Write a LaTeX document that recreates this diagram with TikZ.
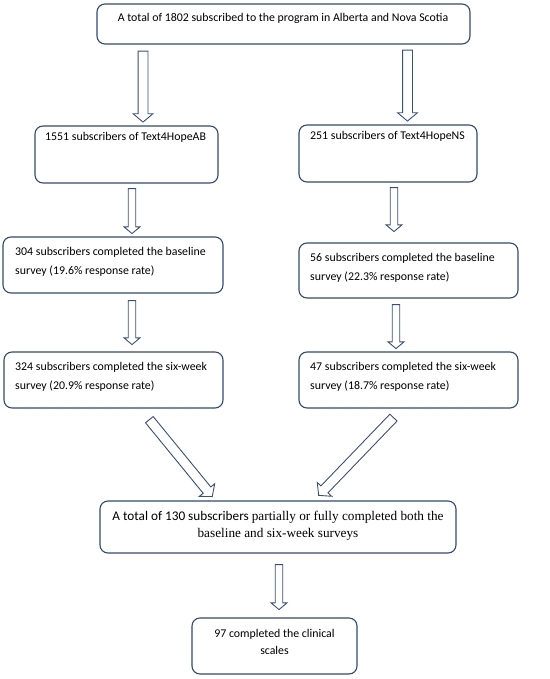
\documentclass[tikz,border=0pt]{standalone}
\usepackage{fontspec}
\setmainfont{Carlito}
\newfontfamily\timesf{Liberation Serif}
\usetikzlibrary{shapes.arrows,calc}
\definecolor{boxc}{RGB}{52,74,110}
\definecolor{arrc}{RGB}{58,80,118}
\newcommand\mkbox[5]{\node[box, minimum width={#4bp-#2bp}, minimum height={#5bp-#3bp}] (#1) at ({(#2+#4)/2},{(#3+#5)/2}) {};}
\newcommand\mkarrow[4][]{\path let \p1=(#2), \p2=(#3), \n1={atan2(\y2-\y1,\x2-\x1)}, \n2={veclen(\x2-\x1,\y2-\y1)} in node[barrow,#1, minimum height=\n2, rotate=\n1] (#4) at ($(#2)!0.5!(#3)$) {};}
\begin{document}
\begin{tikzpicture}[x=1bp,y=-1bp,
  box/.style={draw=boxc, line width=1.1bp, rounded corners=8bp, inner sep=0pt},
  txt/.style={inner sep=0pt, anchor=north west, align=left, font=\fontsize{11.9}{19.5}\selectfont},
  ctxt/.style={inner sep=0pt, anchor=north, align=center, font=\fontsize{11.9}{17.5}\selectfont},
  barrow/.style={single arrow, draw=arrc, line width=0.9bp, fill=white, inner sep=4.5bp, outer sep=0pt,
    single arrow head extend=5bp, single arrow tip angle=100, anchor=center},
  thin/.style={inner sep=3.3bp, single arrow head extend=4.2bp}]
\useasboundingbox (0,0) rectangle (550,679);
\fill[white] (0,0) rectangle (550,679);
% boxes
\mkbox{b1}{97}{4}{470}{44}
\mkbox{b2}{35}{126}{218}{183}
\mkbox{b3}{299}{125}{477}{182}
\mkbox{b4}{3}{237}{223}{293}
\mkbox{b5}{299}{243}{518}{298}
\mkbox{b6}{4}{352}{223}{408}
\mkbox{b7}{299}{352}{518}{408}
\mkbox{b8}{100}{501}{456}{553}
\mkbox{b9}{192}{618}{357}{674}
% texts
\node[ctxt] (t1) at (283,13) {A total of 1802 subscribed to the program in Alberta and Nova Scotia};
\node[txt] (t2) at (45,132) {1551 subscribers of Text4HopeAB};
\node[txt] (t3) at (310,131) {251 subscribers of Text4HopeNS};
\node[txt] (t4) at (15,247) {304 subscribers completed the baseline\\survey (19.6\% response rate)};
\node[txt] (t5) at (310,253) {56 subscribers completed the baseline\\survey (22.3\% response rate)};
\node[txt] (t6) at (15,362) {324 subscribers completed the six-week\\survey (20.9\% response rate)};
\node[txt] (t7) at (310,362) {47 subscribers completed the six-week\\survey (18.7\% response rate)};
\node[ctxt, font=\fontsize{13.3}{18}\selectfont] (t8) at (278,510.5) {A total of 130 subscribers {\timesf partially or fully completed both the}\\{\timesf baseline and six-week surveys}};
\node[ctxt] (t9) at (274.5,629) {97 completed the clinical\\scales};
% arrow end points
\coordinate (a1s) at (143,49);   \coordinate (a1e) at (143,120);
\coordinate (a2s) at (407.5,48); \coordinate (a2e) at (407.5,119);
\coordinate (a3s) at (132,187);  \coordinate (a3e) at (132,232);
\coordinate (a4s) at (394,186);  \coordinate (a4e) at (394,230);
\coordinate (a5s) at (132,299);  \coordinate (a5e) at (132,343);
\coordinate (a6s) at (396,303);  \coordinate (a6e) at (396,347);
\coordinate (a7s) at (148,418);  \coordinate (a7e) at (211,495);
\coordinate (a8s) at (395,416);  \coordinate (a8e) at (320,494);
\coordinate (a9s) at (279,563);  \coordinate (a9e) at (279,608);
\mkarrow{a1s}{a1e}{A1}
\mkarrow{a2s}{a2e}{A2}
\mkarrow[thin]{a3s}{a3e}{A3}
\mkarrow[thin]{a4s}{a4e}{A4}
\mkarrow[thin]{a5s}{a5e}{A5}
\mkarrow[thin]{a6s}{a6e}{A6}
\mkarrow{a7s}{a7e}{A7}
\mkarrow{a8s}{a8e}{A8}
\mkarrow[thin]{a9s}{a9e}{A9}
\end{tikzpicture}
\end{document}
